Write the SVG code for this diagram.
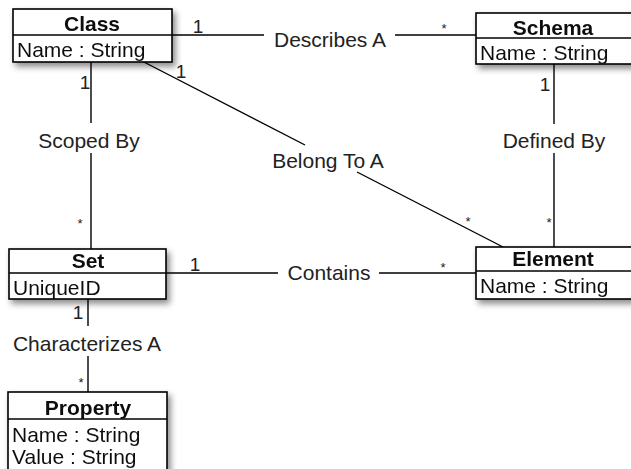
<svg xmlns="http://www.w3.org/2000/svg" width="631" height="469" viewBox="0 0 631 469">
  <defs>
    <filter id="shadow" x="-10%" y="-10%" width="130%" height="140%">
      <feDropShadow dx="3" dy="4" stdDeviation="3" flood-color="#000" flood-opacity="0.45"/>
    </filter>
  </defs>
  <style>
    .box { fill: #ffffff; stroke: #000; stroke-width: 1.6; }
    .div { stroke: #000; stroke-width: 1.3; }
    .title { font-family: "Liberation Sans", Arial, sans-serif; font-size: 21px; font-weight: bold; text-anchor: middle; fill: #111; }
    .attr { font-family: "Liberation Sans", Arial, sans-serif; font-size: 21px; fill: #111; }
    .lbl { font-family: "Liberation Sans", Arial, sans-serif; font-size: 21px; fill: #222; text-anchor: middle; }
    .mult { font-family: "Liberation Sans", Arial, sans-serif; font-size: 19px; fill: #222; text-anchor: middle; }
    .star { font-family: "Liberation Sans", Arial, sans-serif; font-size: 13px; fill: #222; text-anchor: middle; }
    .edge { stroke: #000; stroke-width: 1.4; fill: none; }
  </style>
  <rect width="631" height="469" fill="#ffffff"/>

  <g id="connectors">
    <!-- Class - Schema : Describes A -->
    <line class="edge" x1="172" y1="35" x2="264" y2="35"/>
    <line class="edge" x1="395" y1="35" x2="476" y2="35"/>
    <text class="lbl" x="330" y="47">Describes A</text>
    <text class="mult" x="198" y="33">1</text>
    <text class="star" x="444" y="33">*</text>

    <!-- Class - Set : Scoped By -->
    <line class="edge" x1="91" y1="62" x2="91" y2="123"/>
    <line class="edge" x1="91" y1="153" x2="91" y2="249"/>
    <text class="lbl" x="89" y="148">Scoped By</text>
    <text class="mult" x="85" y="89">1</text>
    <text class="star" x="80" y="228">*</text>

    <!-- Class - Element : Belong To A -->
    <line class="edge" x1="140" y1="60" x2="305" y2="145"/>
    <line class="edge" x1="357" y1="172" x2="503" y2="247"/>
    <text class="lbl" x="328" y="168">Belong To A</text>
    <text class="mult" x="181" y="78">1</text>
    <text class="star" x="468" y="226">*</text>

    <!-- Schema - Element : Defined By -->
    <line class="edge" x1="554" y1="64" x2="554" y2="124"/>
    <line class="edge" x1="554" y1="153" x2="554" y2="247"/>
    <text class="lbl" x="554" y="148">Defined By</text>
    <text class="mult" x="545" y="91">1</text>
    <text class="star" x="549" y="227">*</text>

    <!-- Set - Element : Contains -->
    <line class="edge" x1="166" y1="273" x2="278" y2="273"/>
    <line class="edge" x1="379" y1="273" x2="476" y2="273"/>
    <text class="lbl" x="329" y="280">Contains</text>
    <text class="mult" x="195" y="271">1</text>
    <text class="star" x="443" y="272">*</text>

    <!-- Set - Property : Characterizes A -->
    <line class="edge" x1="88" y1="299" x2="88" y2="326"/>
    <line class="edge" x1="88" y1="356" x2="88" y2="392"/>
    <text class="lbl" x="87" y="351">Characterizes A</text>
    <text class="mult" x="78" y="319">1</text>
    <text class="star" x="81" y="387">*</text>
  </g>

  <g id="class" filter="url(#shadow)">
    <rect class="box" x="13" y="9" width="159" height="53"/>
    <line class="div" x1="13" y1="35" x2="172" y2="35"/>
    <text class="title" x="92" y="31">Class</text>
    <text class="attr" x="17" y="57">Name : String</text>
  </g>

  <g id="schema" filter="url(#shadow)">
    <rect class="box" x="476" y="13" width="160" height="51"/>
    <line class="div" x1="476" y1="38" x2="636" y2="38"/>
    <text class="title" x="553" y="35">Schema</text>
    <text class="attr" x="480" y="60">Name : String</text>
  </g>

  <g id="set" filter="url(#shadow)">
    <rect class="box" x="9" y="249" width="157" height="50"/>
    <line class="div" x1="9" y1="273" x2="166" y2="273"/>
    <text class="title" x="88" y="268">Set</text>
    <text class="attr" x="13" y="295">UniqueID</text>
  </g>

  <g id="element" filter="url(#shadow)">
    <rect class="box" x="476" y="247" width="160" height="52"/>
    <line class="div" x1="476" y1="271" x2="636" y2="271"/>
    <text class="title" x="553" y="266">Element</text>
    <text class="attr" x="480" y="293">Name : String</text>
  </g>

  <g id="property" filter="url(#shadow)">
    <rect class="box" x="8" y="392" width="159" height="90"/>
    <line class="div" x1="8" y1="419" x2="167" y2="419"/>
    <text class="title" x="88" y="415">Property</text>
    <text class="attr" x="12" y="442">Name : String</text>
    <text class="attr" x="12" y="464">Value : String</text>
  </g>
</svg>
